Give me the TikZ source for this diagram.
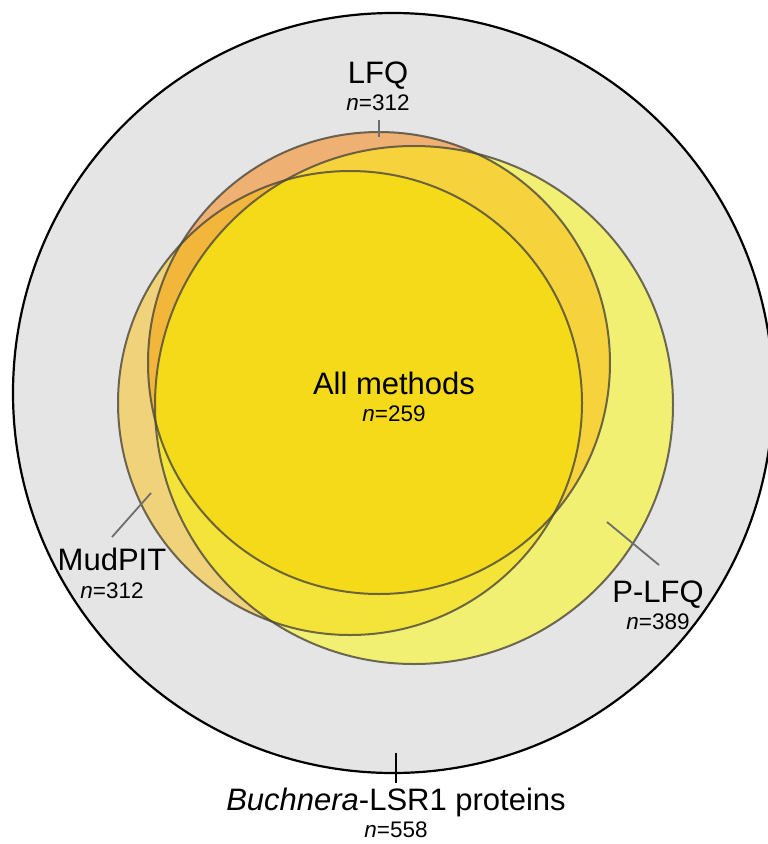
\documentclass[tikz,border=0pt]{standalone}
\usepackage{fontspec}
\setmainfont{Liberation Sans}
\usetikzlibrary{positioning}
\definecolor{BgGray}{HTML}{E5E5E5}
\definecolor{MudOnly}{HTML}{EFD27A}
\definecolor{LfqOnly}{HTML}{EFB073}
\definecolor{PlfqOnly}{HTML}{F2F072}
\definecolor{MudLfq}{HTML}{F2B63A}
\definecolor{MudPlfq}{HTML}{F4E43A}
\definecolor{LfqPlfq}{HTML}{F6D33C}
\definecolor{AllThree}{HTML}{F5DA1A}
\definecolor{EdgeGray}{HTML}{4A473C}
\definecolor{PointerGray}{HTML}{6E6E6E}
\tikzset{
  setedge/.style={draw=EdgeGray, draw opacity=0.8, line width=2pt},
  outeredge/.style={draw=black, line width=2.2pt},
  pointer/.style={draw=PointerGray, line width=1.8pt},
  outerpointer/.style={draw=black, line width=1.8pt},
  biglabel/.style={font=\fontsize{31}{36}\selectfont, inner sep=0pt, anchor=base},
  countlabel/.style={font=\fontsize{22.5}{26}\selectfont, inner sep=0pt, anchor=base}
}

\begin{document}
\begin{tikzpicture}[x=1pt, y=-1pt]
\useasboundingbox (0,0) rectangle (768,844);
% centres of the sets
\coordinate (cAll) at (393,393);
\coordinate (cMud) at (350,403);
\coordinate (cLfq) at (379,363);
\coordinate (cPlfq) at (414,405);

% all proteins
\fill[BgGray] (cAll) circle (380);

% single sets
\fill[MudOnly] (cMud) circle (232);
\fill[LfqOnly] (cLfq) circle (231);
\fill[PlfqOnly] (cPlfq) circle (259);

% pairwise overlaps
\begin{scope}
  \clip (cMud) circle (232);
  \fill[MudLfq] (cLfq) circle (231);
  \fill[MudPlfq] (cPlfq) circle (259);
\end{scope}
\begin{scope}
  \clip (cLfq) circle (231);
  \fill[LfqPlfq] (cPlfq) circle (259);
\end{scope}

% shared by all methods
\begin{scope}
  \clip (cMud) circle (232);
  \clip (cLfq) circle (231);
  \fill[AllThree] (cPlfq) circle (259);
\end{scope}

% outlines
\draw[setedge] (cMud) circle (232);
\draw[setedge] (cLfq) circle (231);
\draw[setedge] (cPlfq) circle (259);
\draw[outeredge] (cAll) circle (380);

% labels
\node[biglabel] (lfqName) at (378,83) {LFQ};
\node[countlabel] (lfqCount) at (378,110) {\textit{n}=312};
\node[biglabel] (allName) at (394,394) {All methods};
\node[countlabel] (allCount) at (394,421) {\textit{n}=259};
\node[biglabel] (mudName) at (112,570) {MudPIT};
\node[countlabel] (mudCount) at (112,598) {\textit{n}=312};
\node[biglabel] (plfqName) at (658,602) {P-LFQ};
\node[countlabel] (plfqCount) at (658,629) {\textit{n}=389};
\node[biglabel] (bucName) at (396,810) {\textit{Buchnera}-LSR1 proteins};
\node[countlabel] (bucCount) at (396,837) {\textit{n}=558};

% pointers
\coordinate (lfqTipA) at (379,120);
\coordinate (lfqTipB) at (379,137);
\coordinate (mudTipA) at (112,537);
\coordinate (mudTipB) at (151,493);
\coordinate (plfqTipA) at (659,565);
\coordinate (plfqTipB) at (607,522);
\coordinate (bucTipA) at (396,783);
\coordinate (bucTipB) at (396,753);
\draw[pointer] (lfqTipA) -- (lfqTipB);
\draw[pointer] (mudTipA) -- (mudTipB);
\draw[pointer] (plfqTipA) -- (plfqTipB);
\draw[outerpointer] (bucTipA) -- (bucTipB);
\end{tikzpicture}
\end{document}
